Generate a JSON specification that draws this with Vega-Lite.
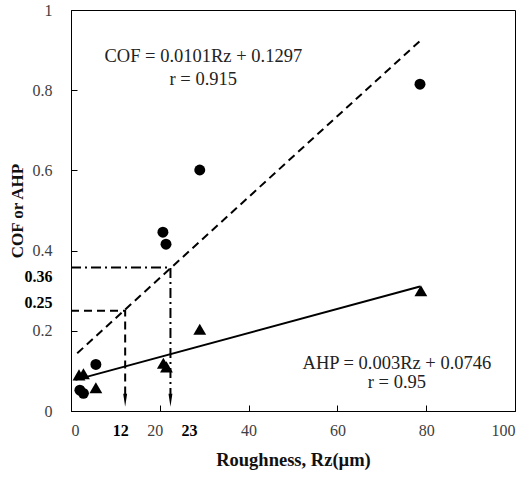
{
  "$schema": "https://vega.github.io/schema/vega-lite/v6.json",
  "width": 444,
  "height": 401,
  "autosize": "none",
  "padding": {"left": 71, "top": 10, "right": 14, "bottom": 66},
  "config": {
    "view": {"stroke": "black", "strokeWidth": 1},
    "font": "Liberation Serif",
    "axis": {"grid": false, "domainColor": "black", "tickColor": "black", "labelFont": "Liberation Serif", "titleFont": "Liberation Serif", "titleColor": "#111111"}
  },
  "datasets": {
    "pts": [
      {"Rz": 20.7, "v": 0.446, "s": "COF"},
      {"Rz": 21.4, "v": 0.416, "s": "COF"},
      {"Rz": 29.0, "v": 0.601, "s": "COF"},
      {"Rz": 78.6, "v": 0.815, "s": "COF"},
      {"Rz": 5.6, "v": 0.116, "s": "COF"},
      {"Rz": 2.0, "v": 0.052, "s": "COF"},
      {"Rz": 2.8, "v": 0.044, "s": "COF"},
      {"Rz": 1.8, "v": 0.09, "s": "AHP"},
      {"Rz": 2.8, "v": 0.093, "s": "AHP"},
      {"Rz": 5.6, "v": 0.058, "s": "AHP"},
      {"Rz": 20.8, "v": 0.119, "s": "AHP"},
      {"Rz": 21.5, "v": 0.11, "s": "AHP"},
      {"Rz": 29.0, "v": 0.204, "s": "AHP"},
      {"Rz": 78.8, "v": 0.30, "s": "AHP"}
    ],
    "cofline": [{"Rz": 1.4, "v": 0.144}, {"Rz": 78.6, "v": 0.923}],
    "ahpline": [{"Rz": 1.0, "v": 0.0776}, {"Rz": 78.6, "v": 0.3104}],
    "g25": [{"Rz": 0, "v": 0.25, "o": 1}, {"Rz": 12.2, "v": 0.25, "o": 2}, {"Rz": 12.2, "v": 0.04, "o": 3}],
    "g36": [{"Rz": 0, "v": 0.358, "o": 1}, {"Rz": 22.4, "v": 0.358, "o": 2}, {"Rz": 22.4, "v": 0.04, "o": 3}],
    "arrows": [{"Rz": 12.2, "v": 0.027}, {"Rz": 22.4, "v": 0.027}],
    "labels": [
      {"Rz": 29.8, "v": 0.885, "t": "COF = 0.0101Rz + 0.1297"},
      {"Rz": 29.8, "v": 0.829, "t": "r = 0.915"},
      {"Rz": 73.4, "v": 0.12, "t": "AHP = 0.003Rz + 0.0746"},
      {"Rz": 73.4, "v": 0.073, "t": "r = 0.95"}
    ]
  },
  "encoding": {
    "x": {"field": "Rz", "type": "quantitative",
      "scale": {"domain": [0, 100], "nice": false},
      "axis": {"title": "Roughness, Rz(\u00b5m)", "values": [0, 12, 20, 23, 40, 60, 80, 100],
        "tickSize": -6, "labelPadding": 17, "labelFontSize": 16, "titleFontSize": 18.5, "titleFontWeight": "bold", "titlePadding": 12,
        "labelColor": {"condition": {"test": "datum.value == 12 || datum.value == 23", "value": "black"}, "value": "#404040"},
        "labelFontWeight": {"condition": {"test": "datum.value == 12 || datum.value == 23", "value": "bold"}, "value": "normal"},
        "tickOpacity": {"condition": {"test": "datum.value == 12 || datum.value == 23", "value": 0}, "value": 1},
        "labelOffset": {"condition": [{"test": "datum.value == 12", "value": -4}, {"test": "datum.value == 23", "value": 16}, {"test": "datum.value == 20", "value": -5}], "value": 0}
      }},
    "y": {"field": "v", "type": "quantitative",
      "scale": {"domain": [0, 1], "nice": false},
      "axis": {"title": "COF or AHP", "values": [0, 0.2, 0.25, 0.36, 0.4, 0.6, 0.8, 1],
        "labelExpr": "'' + datum.value",
        "tickSize": -6, "labelPadding": 25, "labelFontSize": 16, "titleFontSize": 17, "titleFontWeight": "bold", "titlePadding": -2,
        "labelColor": {"condition": {"test": "datum.value == 0.25 || datum.value == 0.36", "value": "black"}, "value": "#404040"},
        "labelFontWeight": {"condition": {"test": "datum.value == 0.25 || datum.value == 0.36", "value": "bold"}, "value": "normal"},
        "tickOpacity": {"condition": {"test": "datum.value == 0.25 || datum.value == 0.36", "value": 0}, "value": 1},
        "labelOffset": {"condition": [{"test": "datum.value == 0.36", "value": 10}, {"test": "datum.value == 0.25", "value": -8}], "value": 0}
      }}
  },
  "layer": [
    {"data": {"name": "g25"}, "mark": {"type": "line", "color": "black", "strokeWidth": 2, "strokeDash": [8, 5]}, "encoding": {"order": {"field": "o"}}},
    {"data": {"name": "g36"}, "mark": {"type": "line", "color": "black", "strokeWidth": 2, "strokeDash": [10, 4, 2, 4]}, "encoding": {"order": {"field": "o"}}},
    {"data": {"name": "arrows"}, "mark": {"type": "point", "shape": "M-0.3,-1L0.3,-1L0,1Z", "filled": true, "color": "black", "opacity": 1, "size": 169}},
    {"data": {"name": "cofline"}, "mark": {"type": "line", "color": "black", "strokeWidth": 2, "strokeDash": [8, 5]}},
    {"data": {"name": "ahpline"}, "mark": {"type": "line", "color": "black", "strokeWidth": 2}},
    {"data": {"name": "pts"}, "transform": [{"filter": "datum.s == 'COF'"}], "mark": {"type": "point", "shape": "circle", "filled": true, "color": "black", "opacity": 1, "size": 120}},
    {"data": {"name": "pts"}, "transform": [{"filter": "datum.s == 'AHP'"}], "mark": {"type": "point", "shape": "triangle-up", "filled": true, "color": "black", "opacity": 1, "size": 165}},
    {"data": {"name": "labels"}, "mark": {"type": "text", "font": "Liberation Serif", "fontSize": 18.5, "color": "#222222", "align": "center", "baseline": "middle"}, "encoding": {"text": {"field": "t"}}}
  ]
}
